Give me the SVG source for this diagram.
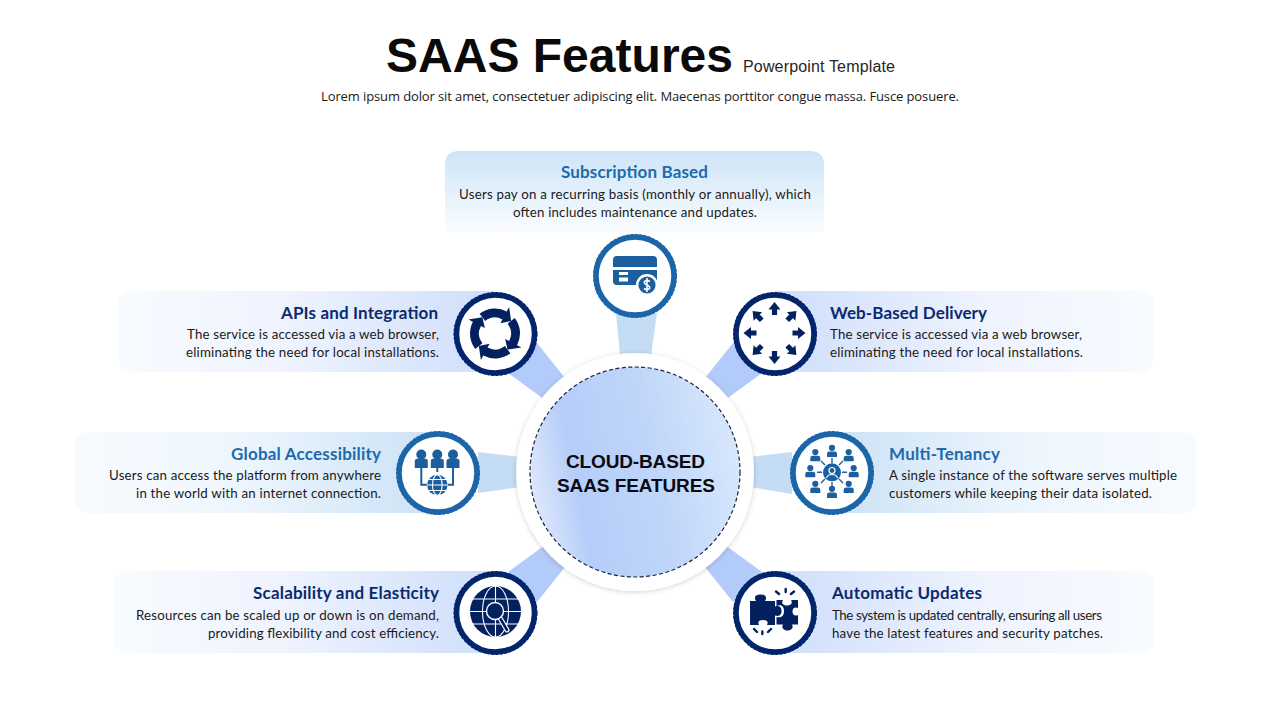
<svg xmlns="http://www.w3.org/2000/svg" width="1280" height="720" viewBox="0 0 1280 720">
<style>
text{font-family:"Lato","Open Sans","Liberation Sans",sans-serif}
.h{font-weight:700;font-size:17px}
.nv{fill:#0b2a6e}.bl{fill:#1c6aad}
.b{font-size:13.3px;fill:#1a1a1a}
.hub{font-family:"Liberation Sans",Arial,sans-serif;font-weight:700;font-size:19px;fill:#0a0a14}
.cn{fill:#b3cbfa}.cl{fill:#c5dcf5}
.ib{fill:#1c5f9e;stroke:none}.in{fill:#03215f;stroke:none}
</style>
<defs>
<linearGradient id="gL" x1="0" x2="1" y1="0" y2="0"><stop offset="0" stop-color="#f8fbff"/><stop offset=".45" stop-color="#eef3fe"/><stop offset="1" stop-color="#cfdefb"/></linearGradient>
<linearGradient id="gR" x1="1" x2="0" y1="0" y2="0"><stop offset="0" stop-color="#f8fbff"/><stop offset=".45" stop-color="#eef3fe"/><stop offset="1" stop-color="#cfdefb"/></linearGradient>
<linearGradient id="gBL" x1="0" x2="1" y1="0" y2="0"><stop offset="0" stop-color="#f7fbff"/><stop offset=".45" stop-color="#eef6fd"/><stop offset="1" stop-color="#cbe2f6"/></linearGradient>
<linearGradient id="gBR" x1="1" x2="0" y1="0" y2="0"><stop offset="0" stop-color="#f7fbff"/><stop offset=".45" stop-color="#eef6fd"/><stop offset="1" stop-color="#cbe2f6"/></linearGradient>
<linearGradient id="gT" x1="0" x2="0" y1="0" y2="1"><stop offset="0" stop-color="#cde4f7"/><stop offset="1" stop-color="#fafdff"/></linearGradient>
<linearGradient id="gH" x1="0" x2="1" y1=".58" y2=".38"><stop offset="0" stop-color="#dfe8fc"/><stop offset=".22" stop-color="#b5cdf9"/><stop offset=".6" stop-color="#c0d6f9"/><stop offset="1" stop-color="#d8e8fc"/></linearGradient>
<filter id="sh" x="-20%" y="-20%" width="140%" height="140%"><feDropShadow dx="0" dy="1" stdDeviation="2.5" flood-color="#000" flood-opacity=".18"/></filter>
<g id="ringB"><circle r="39" fill="#fff" stroke="#1c65a8" stroke-width="5.5"/><circle r="41.2" fill="none" stroke="#1c65a8" stroke-width="1.6" stroke-dasharray="3 1.4"/></g>
<g id="ringN"><circle r="39" fill="#fff" stroke="#03256c" stroke-width="5.5"/><circle r="41.2" fill="none" stroke="#03256c" stroke-width="1.6" stroke-dasharray="3 1.4"/></g>
<path id="arw" class="in" d="M0-31 L6-23.5 H2.6 V-18 H-2.6 V-23.5 H-6Z"/>
<path id="arc" class="in" d="M-15.4-19.7 A25 25 0 0 1 11.7-22.1 L14.1-26.5 L16.15-12.6 L5.4-10.15 L7.5-14.1 A16 16 0 0 0 -9.85-12.6Z"/>
<g id="pers"><circle cy="-4.2" r="3.1"/><path d="M-5 5 V1.5 Q-5-.6-2.6-.6 H2.6 Q5-.6 5 1.5 V5Z"/></g>
<g id="pers2"><circle cy="-6.5" r="5"/><path d="M-6.5 7 V0 Q-6.5-2.5-3-2.5 H3 Q6.5-2.5 6.5 0 V7Z"/></g>
</defs>

<g id="title">
<text x="386" y="72" font-size="48" font-weight="700" textLength="347" style="font-family:'Liberation Sans',Arial,sans-serif" fill="#0a0a0a">SAAS Features</text>
<text x="743" y="72" font-size="16" textLength="152" style="font-family:'Liberation Sans',Arial,sans-serif" fill="#262626">Powerpoint Template</text>
<text x="321" y="101" font-size="13" textLength="638" style="font-family:'Open Sans',sans-serif" fill="#1a1a1a">Lorem ipsum dolor sit amet, consectetuer adipiscing elit. Maecenas porttitor congue massa. Fusce posuere.</text>
</g>

<g id="cards">
<path d="M445 232 V165 Q445 151 459 151 H810 Q824 151 824 165 V232Z" fill="url(#gT)"/>
<path d="M495 291 H132 Q118 291 118 305 V358 Q118 372 132 372 H495Z" fill="url(#gL)"/>
<path d="M775 291 H1140 Q1154 291 1154 305 V358 Q1154 372 1140 372 H775Z" fill="url(#gR)"/>
<path d="M438 432 H89 Q75 432 75 446 V499 Q75 513 89 513 H438Z" fill="url(#gBL)"/>
<path d="M832 432 H1182 Q1196 432 1196 446 V499 Q1196 513 1182 513 H832Z" fill="url(#gBR)"/>
<path d="M495 571 H128 Q114 571 114 585 V639 Q114 653 128 653 H495Z" fill="url(#gL)"/>
<path d="M775 571 H1140 Q1154 571 1154 585 V639 Q1154 653 1140 653 H775Z" fill="url(#gR)"/>
</g>

<g id="connectors">
<polygon class="cl" points="616,313 657,313 651,356 620,356"/>
<polygon class="cn" points="537,343 508,373 545,400 565,378"/>
<polygon class="cn" points="733,343 762,373 725,400 705,378"/>
<polygon class="cl" points="478,452 478,493 520,487 520,457"/>
<polygon class="cl" points="792,452 792,494 750,487 750,457"/>
<polygon class="cn" points="537,602 508,572 545,545 565,567"/>
<polygon class="cn" points="733,602 762,572 725,545 705,567"/>
</g>

<g id="hub">
<circle cx="635" cy="472" r="119" fill="#fff" filter="url(#sh)"/>
<circle cx="635" cy="472" r="105" fill="url(#gH)" stroke="#1a2340" stroke-width="1.2" stroke-dasharray="4 2.5"/>
<text class="hub" x="566" y="468" textLength="139">CLOUD-BASED</text>
<text class="hub" x="557" y="492" textLength="158">SAAS FEATURES</text>
</g>

<g id="node-subscription">
<text class="h bl" x="561" y="178" textLength="147">Subscription Based</text>
<text class="b" x="459" y="199" textLength="352">Users pay on a recurring basis (monthly or annually), which</text>
<text class="b" x="513" y="217" textLength="244">often includes maintenance and updates.</text>
<use href="#ringB" x="635" y="276"/>
<path class="ib" d="M613 267 V260 Q613 256 617 256 H653 Q657 256 657 260 V267Z"/>
<path class="ib" d="M613 270 H657 V285 H617 Q613 285 613 281Z"/>
<rect x="619" y="272" width="9" height="3" fill="#fff"/><rect x="619" y="277.5" width="9" height="4" fill="#fff"/>
<circle cx="647" cy="285" r="11" fill="#fff"/><circle cx="647" cy="285" r="8.6" class="ib"/>
<path d="M650 281.5 Q647 279.5 644.6 281.3 Q643.4 283.6 647 285 Q650.6 286.4 649.4 288.7 Q647 290.5 644 288.5 M647 278 V292" fill="none" stroke="#fff" stroke-width="1.6"/>
</g>

<g id="node-apis">
<text class="h nv" x="281" y="319" textLength="157">APIs and Integration</text>
<text class="b" x="187" y="339" textLength="252">The service is accessed via a web browser,</text>
<text class="b" x="186" y="357" textLength="253">eliminating the need for local installations.</text>
<use href="#ringN" x="495.5" y="334"/>
<g transform="translate(495 333.5)"><use href="#arc"/><use href="#arc" transform="rotate(90)"/><use href="#arc" transform="rotate(180)"/><use href="#arc" transform="rotate(270)"/></g>
</g>

<g id="node-web">
<text class="h nv" x="830" y="319" textLength="157">Web-Based Delivery</text>
<text class="b" x="830" y="339" textLength="252">The service is accessed via a web browser,</text>
<text class="b" x="830" y="357" textLength="253">eliminating the need for local installations.</text>
<use href="#ringN" x="775" y="334"/>
<g transform="translate(774.5 333)"><use href="#arw"/><use href="#arw" transform="rotate(45)"/><use href="#arw" transform="rotate(90)"/><use href="#arw" transform="rotate(135)"/><use href="#arw" transform="rotate(180)"/><use href="#arw" transform="rotate(225)"/><use href="#arw" transform="rotate(270)"/><use href="#arw" transform="rotate(315)"/></g>
</g>

<g id="node-global">
<text class="h bl" x="231" y="460" textLength="150">Global Accessibility</text>
<text class="b" x="109" y="480" textLength="272">Users can access the platform from anywhere</text>
<text class="b" x="136" y="498" textLength="245">in the world with an internet connection.</text>
<use href="#ringB" x="438" y="473"/>
<g fill="#1c5f9e"><use href="#pers2" x="421.3" y="461"/><use href="#pers2" x="437.3" y="461"/><use href="#pers2" x="453" y="461"/></g>
<path d="M421.3 467 V484.7 H428 M437.3 467 V472 M453 467 V484.7 H447" fill="none" stroke="#1c5f9e" stroke-width="2"/>
<circle cx="437.3" cy="485" r="10.5" fill="#fff"/>
<circle cx="437.3" cy="485" r="10.2" class="ib"/>
<g fill="none" stroke="#fff" stroke-width="1.1"><ellipse cx="437.3" cy="485" rx="4.8" ry="10.2"/><path d="M427 485 H447.6 M429 479.5 H446 M429 490.5 H446"/></g>
</g>

<g id="node-multi">
<text class="h bl" x="889" y="460" textLength="111">Multi-Tenancy</text>
<text class="b" x="889" y="480" textLength="288">A single instance of the software serves multiple</text>
<text class="b" x="889" y="498" textLength="263">customers while keeping their data isolated.</text>
<use href="#ringB" x="832" y="473"/>
<g stroke="#1c5f9e" stroke-width="1.4"><path d="M832 458 V463 M832 482 V487 M817 472.3 H822 M842 472.3 H847 M821 461 L825 465 M843 461 L839 465 M821 483 L825 479 M843 483 L839 479"/></g>
<g fill="#1c5f9e"><use href="#pers" x="832" y="452"/><use href="#pers" x="832" y="493"/><use href="#pers" x="810.3" y="472.3"/><use href="#pers" x="853.7" y="472.3"/><use href="#pers" x="815.3" y="456.3"/><use href="#pers" x="848.7" y="456.3"/><use href="#pers" x="815.3" y="488"/><use href="#pers" x="848.7" y="488"/></g>
<circle cx="832" cy="472.3" r="9" class="ib"/>
<circle cx="832" cy="470.5" r="3" fill="none" stroke="#fff" stroke-width="1.2"/><path d="M826.5 478 Q827.5 474.5 832 474.5 Q836.5 474.5 837.5 478" fill="none" stroke="#fff" stroke-width="1.2"/>
</g>

<g id="node-scalability">
<text class="h nv" x="253" y="599" textLength="186">Scalability and Elasticity</text>
<text class="b" x="136" y="620" textLength="303">Resources can be scaled up or down is on demand,</text>
<text class="b" x="208" y="638" textLength="231">providing flexibility and cost efficiency.</text>
<use href="#ringN" x="495.5" y="613"/>
<circle cx="495.5" cy="611.5" r="25.5" class="in"/>
<g fill="none" stroke="#fff" stroke-width="1.1"><ellipse cx="495.5" cy="611.5" rx="13" ry="25.5"/><path d="M495.5 586 V637 M470 611.5 H521 M473 599 H518 M473 624 H518"/></g>
<path d="M500 618 L507 630" stroke="#fff" stroke-width="5" stroke-linecap="round"/>
<path d="M500 618 L507 630" stroke="#03215f" stroke-width="2.6" stroke-linecap="round"/>
<circle cx="495" cy="611" r="8.5" fill="#03215f" stroke="#fff" stroke-width="1.4"/>
</g>

<g id="node-automatic">
<text class="h nv" x="832" y="599" textLength="150">Automatic Updates</text>
<text class="b" x="832" y="620" textLength="270">The system is updated centrally, ensuring all users</text>
<text class="b" x="832" y="638" textLength="271">have the latest features and security patches.</text>
<use href="#ringN" x="775" y="613"/>
<path class="in" d="M750 601 H756 C753 596 757 594.5 760.5 594.5 C764 594.5 768 596 765 601 H775 V606.5 C780 605 781.5 608 781.5 611 C781.5 614 780 617 775 615.5 V625 H767 C769 621 766 620 763 620 C760 620 757 621 759 625 H750Z"/>
<path class="in" d="M776.5 600 H783 C781 603 783 605.5 787 605.5 C791 605.5 793 603 791 600 H798 V608 C795 606.5 792.5 608 792.5 611.5 C792.5 615 795 616.5 798 615 V624.5 H792 C794 628 791 630.5 787.5 630.5 C784 630.5 781 628 783 624.5 H776.5 V617 C782 618.5 784 615 784 611 C784 607 782 604 776.5 606Z"/>
<path d="M785.7 589 V592 M776 591.5 L779 594 M794 591.5 L791 594 M762.3 631.5 V634 M754 629 L757 632 M771 629 L768 632" stroke="#03215f" stroke-width="2.4" stroke-linecap="round"/>
</g>
</svg>
